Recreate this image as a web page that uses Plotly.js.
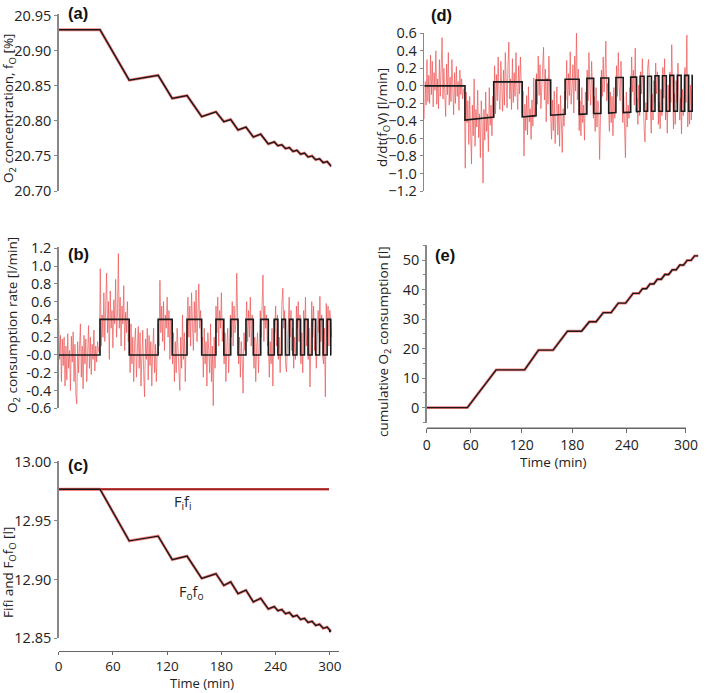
<!DOCTYPE html>
<html><head><meta charset="utf-8">
<script src="https://cdn.plot.ly/plotly-3.0.1.min.js"></script>
<style>html,body{margin:0;padding:0;background:#fff}</style>
</head><body><div id="chart" style="width:709px;height:693px"></div>
<script>
// ---- schedule of consumption pulses (min) ----
const pulseStart = [45.7, 110, 142, 174, 190.3, 207.2, 223.5, 238.5, 246.9, 255.2, 263.6, 271.9, 280.3, 288.6, 297];
const pulseEnd   = [78, 125.6, 158.2, 182.7, 198.4, 215.3, 231.9, 242.5, 250.9, 259.2, 267.6, 275.9, 284.3, 292.6, 301];
const endTime = 301.5;

// (a) O2 concentration [%] at pulse start / end
const fOStart = [20.930, 20.865, 20.836, 20.813, 20.802, 20.791, 20.781, 20.770, 20.766, 20.762, 20.758, 20.754, 20.750, 20.746, 20.742];
const fOEnd   = [20.858, 20.832, 20.806, 20.799, 20.787, 20.777, 20.767, 20.7645, 20.7605, 20.7565, 20.7525, 20.7485, 20.7445, 20.7405, 20.736];

// (b) consumption rate levels [l/min]
const rateOn = 0.4, rateOff = 0.0;
const rateMeasured = [
 0.38,-0.05,0.22,-0.30,0.18,-0.12,0.20,-0.35,0.10,-0.28,
 0.24,-0.15,0.05,-0.40,0.21,-0.08,0.26,-0.30,0.12,-0.45,
 -0.55,0.15,-0.20,0.08,0.35,-0.25,0.10,-0.38,0.22,-0.10,
 0.18,-0.30,0.05,0.33,-0.15,0.20,-0.22,0.12,-0.05,0.28,
 -0.18,0.10,-0.08,0.15,0.05,0.02,0.97,0.10,0.45,0.20,
 0.70,0.15,0.55,0.92,0.25,0.60,-0.05,0.72,0.30,0.50,
 0.08,0.62,0.35,0.85,0.20,0.45,1.14,0.30,0.65,0.10,
 0.55,0.35,0.78,0.05,0.48,0.25,0.60,0.15,0.40,-0.20,
 0.35,-0.10,0.20,-0.30,0.15,0.30,-0.25,0.05,0.32,-0.15,
 0.25,-0.35,0.10,0.28,-0.20,-0.47,0.18,-0.05,0.30,-0.28,
 0.22,-0.12,0.15,-0.35,0.05,0.30,-0.20,0.12,-0.30,0.20,
 0.35,0.10,0.84,0.25,0.55,0.15,0.60,0.05,0.45,0.30,
 0.65,0.20,0.50,-0.05,0.40,0.30,-0.10,0.25,-0.30,0.15,
 -0.20,0.30,0.05,-0.25,-0.40,0.20,-0.15,0.45,-0.05,0.25,
 -0.30,0.10,0.50,0.65,0.20,0.55,0.10,0.70,0.35,0.05,
 0.60,0.25,0.73,0.15,0.45,0.80,0.30,0.50,0.10,0.20,
 -0.25,0.30,-0.10,0.15,-0.35,0.25,0.05,-0.20,0.35,-0.30,
 0.10,-0.57,0.20,-0.15,0.55,0.25,0.65,0.10,0.50,0.30,
 0.70,0.15,0.40,-0.10,0.25,-0.30,0.10,0.30,-0.20,0.15,
 0.45,0.20,0.60,0.10,0.55,0.25,0.35,0.92,0.30,-0.10,
 0.20,-0.25,0.15,-0.05,-0.43,0.25,0.05,0.35,0.60,0.15,
 0.50,0.20,0.65,0.10,0.45,0.30,-0.15,0.20,-0.30,0.10,
 0.25,-0.20,0.05,0.50,0.20,0.60,0.90,0.15,0.55,0.30,
 0.45,0.10,0.20,-0.25,0.15,-0.10,0.30,-0.35,0.40,0.25,
 0.55,0.10,0.45,-0.05,0.20,-0.20,0.35,0.60,0.75,0.30,
 0.50,-0.10,-0.19,0.15,0.40,0.65,0.20,0.50,0.05,0.30,
 -0.15,0.20,-0.05,0.55,0.30,0.60,0.15,0.45,-0.10,0.25,
 -0.20,0.50,0.20,0.65,0.10,0.40,-0.05,0.30,-0.36,0.45,
 0.60,0.20,0.55,0.05,0.30,-0.15,0.20,0.50,0.25,0.66,
 0.15,0.45,0.00,-0.10,0.30,-0.47,0.58,0.20,0.55,0.10,
 0.50,0.35,0.20];

// (c) Fifi and Fofo [l]
const FiFi = 12.977;
const FoFoStart = [12.977, 12.937, 12.920, 12.905, 12.898, 12.891, 12.884, 12.877, 12.8745, 12.872, 12.8695, 12.867, 12.8645, 12.862, 12.8595];
const FoFoEnd   = [12.933, 12.917, 12.901, 12.895, 12.888, 12.881, 12.875, 12.8735, 12.871, 12.8685, 12.866, 12.8635, 12.861, 12.8585, 12.856];

// (d) d/dt(fO V) [l/min]
const dOff     = [0, 0.045, 0.065, 0.075, 0.085, 0.09, 0.095, 0.10, 0.11, 0.11, 0.115, 0.115, 0.12, 0.12, 0.12, 0.12];
const dOnStart = [-0.39, -0.355, -0.335, -0.325, -0.315, -0.31, -0.305, -0.295, -0.29, -0.29, -0.29, -0.29, -0.29, -0.29, -0.29];
const dOnEnd   = [-0.355, -0.34, -0.325, -0.32, -0.315, -0.305, -0.30, -0.29, -0.29, -0.29, -0.29, -0.29, -0.29, -0.29, -0.29];
const dMeasured = [
 -0.38,0.05,-0.22,0.30,-0.18,0.12,-0.20,0.35,-0.10,0.28,
 -0.24,0.15,-0.05,0.40,-0.21,0.08,-0.26,0.30,-0.12,0.45,
 0.55,-0.15,0.20,-0.08,-0.35,0.25,-0.10,0.38,-0.22,0.10,
 -0.18,0.30,-0.05,-0.33,0.15,-0.20,0.22,-0.12,0.05,-0.28,
 0.18,-0.10,0.08,-0.15,-0.05,-0.02,-0.94,-0.07,-0.42,-0.17,
 -0.67,-0.12,-0.52,-0.89,-0.22,-0.57,0.08,-0.69,-0.27,-0.47,
 -0.05,-0.59,-0.32,-0.82,-0.17,-0.42,-1.11,-0.27,-0.62,-0.07,
 -0.52,-0.32,-0.75,-0.02,-0.45,-0.22,-0.57,-0.12,-0.37,0.23,
 -0.32,0.13,-0.17,0.33,-0.12,-0.27,0.28,-0.02,-0.29,0.18,
 -0.22,0.38,-0.07,-0.25,0.23,0.50,-0.15,0.08,-0.27,0.31,
 -0.19,0.15,-0.12,0.38,-0.02,-0.27,0.23,-0.09,0.33,-0.17,
 -0.31,-0.06,-0.80,-0.21,-0.51,-0.11,-0.56,-0.01,-0.41,-0.26,
 -0.61,-0.16,-0.46,0.09,-0.36,-0.26,0.14,-0.21,0.34,-0.11,
 0.24,-0.26,-0.01,0.29,0.44,-0.16,0.19,-0.41,0.09,-0.21,
 0.34,-0.06,-0.46,-0.61,-0.16,-0.51,-0.06,-0.66,-0.31,-0.01,
 -0.56,-0.21,-0.69,-0.11,-0.41,-0.76,-0.26,-0.46,-0.06,-0.16,
 0.29,-0.26,0.14,-0.11,0.39,-0.21,-0.01,0.24,-0.31,0.34,
 -0.06,0.61,-0.16,0.19,-0.51,-0.17,-0.57,-0.02,-0.42,-0.22,
 -0.62,-0.07,-0.32,0.18,-0.17,0.38,-0.02,-0.22,0.28,-0.07,
 -0.37,-0.12,-0.52,-0.02,-0.47,-0.17,-0.27,-0.84,-0.22,0.18,
 -0.12,0.33,-0.07,0.13,0.51,-0.17,0.03,-0.27,-0.52,-0.07,
 -0.42,-0.12,-0.57,-0.02,-0.37,-0.22,0.23,-0.12,0.38,-0.02,
 -0.17,0.28,0.03,-0.42,-0.12,-0.52,-0.82,-0.07,-0.47,-0.22,
 -0.37,-0.02,-0.12,0.33,-0.07,0.18,-0.22,0.43,-0.29,-0.14,
 -0.44,0.01,-0.34,0.16,-0.09,0.31,-0.24,-0.49,-0.64,-0.19,
 -0.39,0.21,0.30,-0.04,-0.29,-0.54,-0.09,-0.39,0.06,-0.19,
 0.26,-0.09,0.16,-0.44,-0.19,-0.49,-0.04,-0.34,0.21,-0.14,
 0.31,-0.39,-0.09,-0.54,0.01,-0.29,0.16,-0.19,0.47,-0.34,
 -0.49,-0.09,-0.44,0.06,-0.19,0.26,-0.09,-0.39,-0.14,-0.55,
 -0.04,-0.34,0.11,0.21,-0.19,0.58,-0.47,-0.09,-0.44,0.01,
 -0.39,-0.05];

// (e) cumulative O2 consumption [l]
const cumStart = [0, 12.8, 19.5, 25.9, 29.1, 32.2, 35.4, 38.7, 40.3, 41.9, 43.5, 45.1, 46.7, 48.3, 49.9];
const cumEnd   = [12.8, 19.5, 25.9, 29.1, 32.2, 35.4, 38.7, 40.3, 41.9, 43.5, 45.1, 46.7, 48.3, 49.9, 51.4];
const cumEndTime = 305;

// tick labels
const rateTickVals = [-0.6,-0.4,-0.2,0,0.2,0.4,0.6,0.8,1.0,1.2];
const rateTickText = ['-0.6','-0.4','-0.2','-0.0','0.2','0.4','0.6','0.8','1.0','1.2'];
const timeTickText = ['0','60','120','180','240','300'];
const cumTimeTickVals = [0, 49.4, 106.7, 163.6, 224.7, 291.3];

// ---- builders ----
function ramp(startVals, endVals, tEnd) {
  const x = [0], y = [startVals[0]];
  for (let i = 0; i < pulseStart.length; i++) {
    x.push(pulseStart[i]); y.push(startVals[i]);
    x.push(pulseEnd[i]); y.push(endVals[i]);
  }
  x.push(tEnd); y.push(endVals[endVals.length - 1]);
  return {x, y};
}
function stepB() {
  const x = [0], y = [rateOff];
  for (let i = 0; i < pulseStart.length; i++) {
    x.push(pulseStart[i], pulseStart[i], pulseEnd[i], pulseEnd[i]);
    y.push(rateOff, rateOn, rateOn, rateOff);
  }
  x.push(endTime); y.push(rateOff);
  return {x, y};
}
function stepD() {
  const x = [0], y = [dOff[0]];
  for (let i = 0; i < pulseStart.length; i++) {
    x.push(pulseStart[i], pulseStart[i], pulseEnd[i], pulseEnd[i]);
    y.push(dOff[i], dOnStart[i], dOnEnd[i], dOff[i + 1]);
  }
  x.push(endTime); y.push(dOff[dOff.length - 1]);
  return {x, y};
}
const idx = a => a.map((_, i) => i);

const W = 709, H = 693;
const px = v => v / W, py = v => 1 - v / H;

const RED = 'rgba(240,80,80,0.75)', REDL = 'rgba(236,80,80,0.85)', BLK = '#1a1a1a';
const a = ramp(fOStart, fOEnd, endTime);
const c = ramp(FoFoStart, FoFoEnd, 299);
const e = ramp(cumStart, cumEnd, cumEndTime);
const bB = stepB(), dB = stepD();

const traces = [
  {x: a.x, y: a.y, xaxis: 'x', yaxis: 'y', mode: 'lines', line: {color: RED, width: 2.8}},
  {x: a.x, y: a.y, xaxis: 'x', yaxis: 'y', mode: 'lines', line: {color: BLK, width: 1.4}},
  {x: idx(rateMeasured), y: rateMeasured, xaxis: 'x2', yaxis: 'y2', mode: 'lines', line: {color: REDL, width: 0.8}},
  {x: bB.x, y: bB.y, xaxis: 'x2', yaxis: 'y2', mode: 'lines', line: {color: BLK, width: 1.6}},
  {x: [0, 299], y: [FiFi, FiFi], xaxis: 'x3', yaxis: 'y3', mode: 'lines', line: {color: 'rgb(235,70,70)', width: 2.6}},
  {x: [0, 299], y: [FiFi, FiFi], xaxis: 'x3', yaxis: 'y3', mode: 'lines', line: {color: '#5a1a1a', width: 0.9}},
  {x: c.x, y: c.y, xaxis: 'x3', yaxis: 'y3', mode: 'lines', line: {color: RED, width: 2.8}},
  {x: c.x, y: c.y, xaxis: 'x3', yaxis: 'y3', mode: 'lines', line: {color: BLK, width: 1.4}},
  {x: idx(dMeasured), y: dMeasured, xaxis: 'x4', yaxis: 'y4', mode: 'lines', line: {color: REDL, width: 0.8}},
  {x: dB.x, y: dB.y, xaxis: 'x4', yaxis: 'y4', mode: 'lines', line: {color: BLK, width: 1.6}},
  {x: e.x, y: e.y, xaxis: 'x5', yaxis: 'y5', mode: 'lines', line: {color: RED, width: 2.8}},
  {x: e.x, y: e.y, xaxis: 'x5', yaxis: 'y5', mode: 'lines', line: {color: BLK, width: 1.4}}
];

const TICKF = {family: 'Open Sans, sans-serif', size: 14.5, color: '#222'};
const XTICKF = {family: 'Open Sans, sans-serif', size: 14, color: '#222'};
const FONT = {family: 'Open Sans, sans-serif', size: 13.5, color: '#222'};
const yBase = {showgrid: false, zeroline: false, showline: true, linecolor: '#888', linewidth: 1.5,
  ticks: 'outside', ticklen: 3, tickcolor: '#888', tickfont: TICKF, fixedrange: true};
const xHidden = {visible: false, range: [0, 310], fixedrange: true};

const layout = {
  width: W, height: H, margin: {l: 0, r: 0, t: 0, b: 0}, showlegend: false,
  paper_bgcolor: '#fff', plot_bgcolor: '#fff', font: FONT,
  xaxis:  Object.assign({}, xHidden, {domain: [px(58.7), px(338.9)], anchor: 'y'}),
  yaxis:  Object.assign({}, yBase, {domain: [py(191), py(13.6)], range: [20.70, 20.953], dtick: 0.05, tick0: 20.70, tickformat: '.2f', anchor: 'x'}),
  xaxis2: Object.assign({}, xHidden, {domain: [px(58.7), px(338.9)], anchor: 'y2'}),
  yaxis2: Object.assign({}, yBase, {domain: [py(408.3), py(246.5)], range: [-0.6, 1.22], tickmode: 'array', tickvals: rateTickVals, ticktext: rateTickText, anchor: 'x2'}),
  xaxis3: {domain: [px(58.7), px(338.9)], range: [0, 310], anchor: 'free', position: py(650.5),
    showgrid: false, zeroline: false, showline: true, linecolor: '#666', linewidth: 1.5,
    ticks: 'outside', ticklen: 3, tickcolor: '#666', tickmode: 'array', tickvals: [0, 60, 120, 180, 240, 300], ticktext: timeTickText,
    tickfont: {family: 'Open Sans, sans-serif', size: 13.5, color: '#222'}, fixedrange: true},
  yaxis3: Object.assign({}, yBase, {domain: [py(638.3), py(461)], range: [12.85, 13.001], dtick: 0.05, tick0: 12.85, tickformat: '.2f', anchor: 'x3'}),
  xaxis4: Object.assign({}, xHidden, {domain: [px(424.3), px(700.2)], anchor: 'y4'}),
  yaxis4: Object.assign({}, yBase, {domain: [py(191), py(33.3)], range: [-1.2, 0.6], dtick: 0.2, tick0: -1.2, tickformat: '.1f', anchor: 'x4'}),
  xaxis5: {domain: [px(426.7), px(702.6)], range: [0, 310], anchor: 'free', position: py(428.3),
    showgrid: false, zeroline: false, showline: false,
    ticks: 'outside', ticklen: 4, tickcolor: '#666', tickmode: 'array', tickvals: cumTimeTickVals, ticktext: timeTickText,
    tickfont: XTICKF, fixedrange: true},
  yaxis5: Object.assign({}, yBase, {domain: [py(422.7), py(245)], range: [-5.1, 55.1], dtick: 10, tick0: 0, anchor: 'x5',
    minor: {dtick: 5, tick0: 0, ticks: 'outside', ticklen: 2, tickcolor: '#888'}}),
  shapes: [
    {type: 'line', xref: 'paper', yref: 'paper', x0: px(426.7), x1: px(686), y0: py(428.3), y1: py(428.3), line: {color: '#666', width: 1.5}}
  ],
  annotations: [
    // panel letters
    {text: '<b>(a)</b>', x: px(65.5), y: py(13), xref: 'paper', yref: 'paper', xanchor: 'left', yanchor: 'middle', showarrow: false, font: {family: 'Liberation Sans, Arial', size: 16.5, color: '#111'}},
    {text: '<b>(b)</b>', x: px(65.5), y: py(253.5), xref: 'paper', yref: 'paper', xanchor: 'left', yanchor: 'middle', showarrow: false, font: {family: 'Liberation Sans, Arial', size: 16.5, color: '#111'}},
    {text: '<b>(c)</b>', x: px(65.5), y: py(464.5), xref: 'paper', yref: 'paper', xanchor: 'left', yanchor: 'middle', showarrow: false, font: {family: 'Liberation Sans, Arial', size: 16.5, color: '#111'}},
    {text: '<b>(d)</b>', x: px(429), y: py(15), xref: 'paper', yref: 'paper', xanchor: 'left', yanchor: 'middle', showarrow: false, font: {family: 'Liberation Sans, Arial', size: 16.5, color: '#111'}},
    {text: '<b>(e)</b>', x: px(432.5), y: py(255), xref: 'paper', yref: 'paper', xanchor: 'left', yanchor: 'middle', showarrow: false, font: {family: 'Liberation Sans, Arial', size: 16.5, color: '#111'}},
    // axis titles
    {text: 'O<sub>2</sub> concentration, f<sub>O</sub> [%]', textangle: -90, x: px(9), y: py(109), xref: 'paper', yref: 'paper', xanchor: 'center', yanchor: 'middle', showarrow: false, font: FONT},
    {text: 'O<sub>2</sub> consumption rate [l/min]', textangle: -90, x: px(13), y: py(325), xref: 'paper', yref: 'paper', xanchor: 'center', yanchor: 'middle', showarrow: false, font: FONT},
    {text: 'Fifi and F<sub>O</sub>f<sub>O</sub> [l]', textangle: -90, x: px(9), y: py(573), xref: 'paper', yref: 'paper', xanchor: 'center', yanchor: 'middle', showarrow: false, font: FONT},
    {text: 'd/dt(f<sub>O</sub>V) [l/min]', textangle: -90, x: px(383), y: py(118), xref: 'paper', yref: 'paper', xanchor: 'center', yanchor: 'middle', showarrow: false, font: FONT},
    {text: 'cumulative O<sub>2</sub> consumption [l]', textangle: -90, x: px(384), y: py(342), xref: 'paper', yref: 'paper', xanchor: 'center', yanchor: 'middle', showarrow: false, font: FONT},
    {text: 'Time (min)', x: px(202), y: 0, xref: 'paper', yref: 'paper', xanchor: 'center', yanchor: 'bottom', borderpad: 0, showarrow: false, font: {family: 'Open Sans, sans-serif', size: 13, color: '#222'}},
    {text: 'Time (min)', x: px(553), y: py(462), xref: 'paper', yref: 'paper', xanchor: 'center', yanchor: 'middle', showarrow: false, font: FONT},
    // in-plot labels
    {text: 'F<sub>i</sub>f<sub>i</sub>', x: 137.5, y: 12.9656, xref: 'x3', yref: 'y3', xanchor: 'center', yanchor: 'middle', showarrow: false, font: {family: 'Open Sans, sans-serif', size: 14.5, color: '#222'}},
    {text: 'F<sub>o</sub>f<sub>o</sub>', x: 147, y: 12.8888, xref: 'x3', yref: 'y3', xanchor: 'center', yanchor: 'middle', showarrow: false, font: {family: 'Open Sans, sans-serif', size: 14.5, color: '#222'}}
  ]
};

Plotly.newPlot('chart', traces, layout, {staticPlot: true, displayModeBar: false});
</script>
</body></html>
